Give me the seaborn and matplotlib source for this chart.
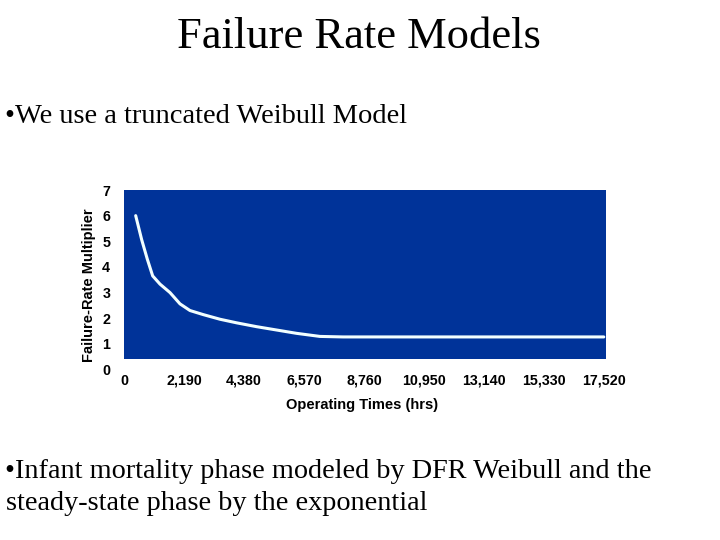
import matplotlib
matplotlib.use("Agg")
import matplotlib.pyplot as plt
import seaborn as sns
import pandas as pd

# Data
hours = [427, 646, 852, 1047, 1314, 1679, 2044, 2409, 2896, 3504, 4113,
         4843, 5573, 6303, 7154, 8000, 10000, 12000, 14000, 16000, 17520]
multiplier = [6.0, 5.06, 4.3, 3.65, 3.33, 3.0, 2.56, 2.3, 2.14, 1.96, 1.82,
              1.67, 1.54, 1.41, 1.29, 1.27, 1.27, 1.27, 1.27, 1.27, 1.27]
x_ticks = [0, 2190, 4380, 6570, 8760, 10950, 13140, 15330, 17520]
x_tick_labels = ["0", "2,190", "4,380", "6,570", "8,760", "10,950",
                 "13,140", "15,330", "17,520"]
y_ticks = [0, 1, 2, 3, 4, 5, 6, 7]

df = pd.DataFrame({"hours": hours, "multiplier": multiplier})

sns.set_style("white")
plt.rcParams["font.family"] = ["Liberation Sans", "DejaVu Sans"]
plt.rcParams["text.color"] = "black"
plt.rcParams["axes.labelcolor"] = "black"
plt.rcParams["xtick.color"] = "black"
plt.rcParams["ytick.color"] = "black"

fig = plt.figure(figsize=(7.2, 5.4), dpi=100)
ax = fig.add_axes([124 / 720, 1 - 369.5 / 540, 482 / 720, 179.5 / 540])

blue = "#003399"
ax.set_facecolor("white")
ax.axhspan(0.41, 7, color=blue, zorder=0, lw=0)

sns.lineplot(data=df, x="hours", y="multiplier", ax=ax, color="#F2FFFF",
             linewidth=2.2, zorder=2)

ax.set_xlim(0, 17600)
ax.set_ylim(0, 7)
ax.set_xticks(x_ticks)
ax.set_xticklabels(x_tick_labels)
ax.set_yticks(y_ticks)
for s in ax.spines.values():
    s.set_visible(False)
ax.tick_params(axis="both", length=0, labelsize=10.3)
ax.tick_params(axis="y", pad=10)
ax.tick_params(axis="x", pad=3)
for lab in ax.get_xticklabels() + ax.get_yticklabels():
    lab.set_fontweight("bold")

ax.set_xlabel("Operating Times (hrs)", fontsize=10.5, fontweight="bold")
ax.set_ylabel("Failure-Rate Multiplier", fontsize=10.5, fontweight="bold")
ax.xaxis.set_label_coords(0.494, -0.158)
ax.yaxis.set_label_coords(-0.058, 0.47)

serif = ["Liberation Serif", "DejaVu Serif"]
fig.text(359 / 720, 1 - 48 / 540, "Failure Rate Models", family=serif,
         fontsize=32, ha="center", va="baseline")
fig.text(5 / 720, 1 - 123 / 540, "\u2022We use a truncated Weibull Model",
         family=serif, fontsize=20.5, ha="left", va="baseline")
fig.text(5 / 720, 1 - 478 / 540,
         "\u2022Infant mortality phase modeled by DFR Weibull and the",
         family=serif, fontsize=20.3, ha="left", va="baseline")
fig.text(6 / 720, 1 - 510 / 540, "steady-state phase by the exponential",
         family=serif, fontsize=20.3, ha="left", va="baseline")

fig.savefig("out.png", dpi=100)
